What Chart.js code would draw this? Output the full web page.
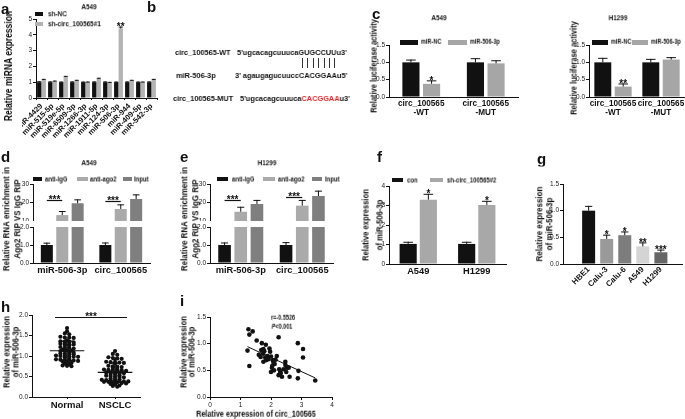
<!DOCTYPE html>
<html>
<head>
<meta charset="utf-8">
<script src="https://cdn.jsdelivr.net/npm/chart.js@4.4.0/dist/chart.umd.min.js"></script>
<style>
  body { margin: 0; background: #fff; }
  #fig { position: relative; width: 685px; height: 419px; overflow: hidden; background: #fff;
         font-family: 'Liberation Sans', Arial, sans-serif; color: #111; }
  #fig canvas { position: absolute; }
  .t { position: absolute; white-space: nowrap; line-height: 1; will-change: transform; }
  .box { position: absolute; }
</style>
</head>
<body>
<div id="fig"></div>
<script>
// ---- data ----
// a: miRNA screen in A549
const aLabels = ['miR-4429', 'miR-515-5p', 'miR-519e-5p', 'miR-6509-3p', 'miR-1266-3p', 'miR-1911-5p',
                 'miR-124-3p', 'miR-506-3p', 'miR-944', 'miR-409-5p', 'miR-542-3p'];
const aNC = [1.00, 1.00, 1.00, 1.00, 1.00, 1.00, 1.00, 1.00, 1.00, 1.00, 1.00];
const aNCErr = [0.06, 0.05, 0.04, 0.05, 0.04, 0.05, 0.05, 0.04, 0.05, 0.04, 0.05];
const aSh = [1.15, 1.05, 1.33, 1.10, 1.00, 1.22, 0.97, 4.40, 1.10, 1.00, 1.15];
const aShErr = [0.06, 0.05, 0.07, 0.05, 0.04, 0.06, 0.05, 0.12, 0.05, 0.04, 0.06];

// c: luciferase reporter
const cLabels = [['circ_100565', '-WT'], ['circ_100565', '-MUT']];
const cA549NC = [1.00, 1.00];
const cA549NCErr = [0.08, 0.12];
const cA549Mir = [0.38, 0.97];
const cA549MirErr = [0.10, 0.09];
const cH1299NC = [1.00, 1.00];
const cH1299NCErr = [0.13, 0.10];
const cH1299Mir = [0.30, 1.08];
const cH1299MirErr = [0.09, 0.07];

// d, e: RIP
const ripLabels = ['miR-506-3p', 'circ_100565'];
const dIgG = [1.00, 1.00];
const dIgGErr = [0.13, 0.14];
const dAgo2 = [13.2, 16.5];
const dAgo2Err = [2.2, 2.5];
const dInput = [19.6, 21.9];
const dInputErr = [2.1, 2.5];
const eIgG = [1.00, 1.00];
const eIgGErr = [0.14, 0.16];
const eAgo2 = [15.0, 18.3];
const eAgo2Err = [2.7, 3.1];
const eInput = [19.2, 23.5];
const eInputErr = [2.2, 2.9];

// f: knockdown
const fLabels = ['A549', 'H1299'];
const fCon = [1.03, 1.03];
const fConErr = [0.11, 0.11];
const fSh = [3.30, 3.03];
const fShErr = [0.30, 0.21];

// g: cell lines
const gLabels = ['HBE1', 'Calu-3', 'Calu-6', 'A549', 'H1299'];
const gVals = [1.00, 0.47, 0.54, 0.33, 0.22];
const gErr = [0.09, 0.08, 0.07, 0.075, 0.05];
const gStars = ['', '*', '*', '**', '***'];
const gColors = ['#111111', '#9a9a9a', '#7d7d7d', '#d4d4d4', '#666666'];

// h: tissues
const hLabels = ['Normal', 'NSCLC'];
const hNormal = [1.68, 1.60, 1.55, 1.53, 1.47, 1.45, 1.45, 1.44, 1.38, 1.36, 1.35, 1.35, 1.33,
  1.30, 1.29, 1.28, 1.28, 1.27, 1.26, 1.22, 1.20, 1.20, 1.18, 1.15, 1.14, 1.13, 1.12, 1.12, 1.11,
  1.08, 1.06, 1.05, 1.05, 1.04, 1.01, 1.00, 1.00, 0.99, 0.98, 0.98, 0.97,
  0.93, 0.92, 0.91, 0.90, 0.90, 0.89, 0.88, 0.87, 0.84, 0.83, 0.82, 0.80, 0.77, 0.76, 0.75];
const hNSCLC = [1.12, 1.05, 1.03, 0.97, 0.95, 0.94, 0.93, 0.92, 0.86, 0.85, 0.84, 0.84, 0.83, 0.82,
  0.76, 0.75, 0.74, 0.73, 0.72, 0.68, 0.67, 0.66, 0.66, 0.65, 0.65, 0.64,
  0.60, 0.60, 0.59, 0.58, 0.58, 0.57, 0.56, 0.53, 0.52, 0.51, 0.50, 0.49, 0.48,
  0.45, 0.44, 0.43, 0.42, 0.41, 0.40, 0.39, 0.39, 0.38, 0.38, 0.37, 0.37, 0.36, 0.36,
  0.34, 0.33, 0.32, 0.31, 0.28, 0.27, 0.25];

// i: correlation
const iX = [1.26, 1.40, 1.29, 1.23, 1.29, 1.53, 1.70, 1.68, 1.75, 1.83, 1.60, 1.74, 1.81, 1.88, 1.75,
  1.84, 1.92, 2.00, 1.97, 1.95, 2.06, 2.08, 2.03, 2.10, 2.00, 2.25, 2.19, 2.27, 2.30, 2.36,
  2.25, 2.41, 2.47, 2.47, 2.52, 2.58, 2.50, 2.61, 2.88, 3.05, 3.05, 2.90, 2.88, 3.45, 2.04,
  1.66, 2.15, 2.12, 1.78, 2.32];
const iY = [1.27, 1.23, 1.17, 0.87, 0.58, 1.06, 1.01, 0.88, 0.90, 0.98, 0.79, 0.81, 0.74, 0.77, 0.66,
  0.69, 0.71, 0.76, 0.85, 0.91, 0.69, 0.64, 0.55, 0.50, 0.47, 1.12, 0.77, 0.52, 0.47, 0.38,
  0.41, 0.52, 0.60, 0.66, 0.55, 0.55, 0.47, 0.38, 1.01, 0.90, 0.74, 0.49, 0.35, 0.31, 0.58,
  0.75, 0.70, 0.62, 0.86, 0.45];

// ---- helpers ----
const BLACK = '#111111';
const SX = 0.85;
const fig = document.getElementById('fig');
Chart.defaults.font.family = "'Liberation Sans', Arial, sans-serif";
Chart.defaults.color = '#111';

function txt(html, x, y, size, o) {
  o = o || {};
  const d = document.createElement('div');
  d.className = 't';
  d.innerHTML = html;
  d.style.left = x + 'px';
  d.style.top = y + 'px';
  d.style.fontSize = size + 'px';
  d.style.fontWeight = o.normal ? 'normal' : 'bold';
  const sx = o.sx || SX;
  if (o.rot) {
    d.style.transform = 'translate(-50%,-50%) rotate(-90deg) scaleX(' + sx + ')';
  } else if (o.left) {
    d.style.transformOrigin = '0 50%';
    d.style.transform = 'translateY(-50%) scaleX(' + sx + ')';
  } else {
    d.style.transform = 'translate(-50%,-50%) scaleX(' + sx + ')';
  }
  if (o.color) d.style.color = o.color;
  fig.appendChild(d);
}

function key(x, y, w, h, color, label, tx, size) {
  const b = document.createElement('div');
  b.className = 'box';
  b.style.left = x + 'px';
  b.style.top = y + 'px';
  b.style.width = w + 'px';
  b.style.height = h + 'px';
  b.style.background = color;
  fig.appendChild(b);
  txt(label, tx, y + h / 2, size, { left: true });
}

function val(d) { return typeof d === 'object' ? d.y : d; }

// upward error bars with caps
const errorBars = {
  id: 'errorBars',
  afterDatasetsDraw(chart, args, opts) {
    const { ctx, chartArea: area } = chart;
    const y = chart.scales.y;
    const over = opts.over === undefined ? 30 : opts.over;
    ctx.save();
    ctx.beginPath();
    ctx.rect(area.left - 5, area.top - over, area.right - area.left + 10, area.bottom - area.top + over);
    ctx.clip();
    chart.data.datasets.forEach((ds, di) => {
      if (!ds.err) return;
      chart.getDatasetMeta(di).data.forEach((bar, i) => {
        const v = val(ds.data[i]);
        const y0 = y.getPixelForValue(v), y1 = y.getPixelForValue(v + ds.err[i]);
        const half = Math.max(2, bar.width * 0.28);
        ctx.strokeStyle = ds.errColor || BLACK;
        ctx.lineWidth = 1;
        ctx.beginPath();
        ctx.moveTo(bar.x, y0);
        ctx.lineTo(bar.x, y1);
        ctx.moveTo(bar.x - half, y1 + 0.5);
        ctx.lineTo(bar.x + half, y1 + 0.5);
        ctx.stroke();
      });
    });
    ctx.restore();
  }
};

// significance stars and bracket lines
const sig = {
  id: 'sig',
  afterDatasetsDraw(chart, args, opts) {
    const { ctx } = chart;
    const x = chart.scales.x, y = chart.scales.y;
    const size = opts.size || 10;
    ctx.save();
    ctx.fillStyle = BLACK;
    ctx.strokeStyle = BLACK;
    ctx.font = 'bold ' + size + 'px ' + Chart.defaults.font.family;
    ctx.textAlign = 'center';
    ctx.textBaseline = 'alphabetic';
    (opts.marks || []).forEach(m => {
      const ds = chart.data.datasets[m.ds];
      const bar = chart.getDatasetMeta(m.ds).data[m.i];
      const top = y.getPixelForValue(val(ds.data[m.i]) + (ds.err ? ds.err[m.i] : 0));
      ctx.fillText(m.text, bar.x, top - 1 + 0.42 * size);
    });
    (opts.lines || []).forEach(l => {
      let x0, x1;
      if (l.a) {
        x0 = chart.getDatasetMeta(l.a[0]).data[l.a[1]].x;
        x1 = chart.getDatasetMeta(l.b[0]).data[l.b[1]].x;
      } else {
        x0 = x.getPixelForValue(l.x0);
        x1 = x.getPixelForValue(l.x1);
      }
      const py = Math.round(y.getPixelForValue(l.y)) + 0.5;
      ctx.lineWidth = 1.2;
      ctx.beginPath();
      ctx.moveTo(x0, py);
      ctx.lineTo(x1, py);
      ctx.stroke();
      ctx.fillText(l.text, (x0 + x1) / 2, py - 2 + 0.42 * size);
    });
    ctx.restore();
  }
};

// mean +/- SD for scatter groups
const meanSd = {
  id: 'meanSd',
  afterDatasetsDraw(chart) {
    const { ctx } = chart;
    const x = chart.scales.x, y = chart.scales.y;
    ctx.save();
    ctx.strokeStyle = BLACK;
    ctx.lineWidth = 1.2;
    chart.data.datasets.forEach(ds => {
      if (ds.center === undefined) return;
      const v = ds.data.map(p => p.y);
      const m = v.reduce((a, b) => a + b, 0) / v.length;
      const sd = Math.sqrt(v.reduce((a, b) => a + (b - m) * (b - m), 0) / (v.length - 1));
      const cx = x.getPixelForValue(ds.center);
      const half = x.getPixelForValue(ds.center + 0.36) - cx;
      const cap = x.getPixelForValue(ds.center + 0.12) - cx;
      const ym = y.getPixelForValue(m), yt = y.getPixelForValue(m + sd), yb = y.getPixelForValue(m - sd);
      ctx.beginPath();
      ctx.moveTo(cx - half, ym); ctx.lineTo(cx + half, ym);
      ctx.moveTo(cx, yt); ctx.lineTo(cx, yb);
      ctx.moveTo(cx - cap, yt); ctx.lineTo(cx + cap, yt);
      ctx.moveTo(cx - cap, yb); ctx.lineTo(cx + cap, yb);
      ctx.stroke();
    });
    ctx.restore();
  }
};

// place a chart so that its plot area lands on the given box
function panel(plot, m, config) {
  const c = document.createElement('canvas');
  const w = plot.r - plot.l + m.L + m.R, h = plot.b - plot.t + m.T + m.B;
  c.width = w;
  c.height = h;
  c.style.left = (plot.l - m.L) + 'px';
  c.style.top = (plot.t - m.T) + 'px';
  c.style.width = w + 'px';
  c.style.height = h + 'px';
  fig.appendChild(c);
  const o = config.options;
  o.responsive = false;
  o.animation = false;
  o.devicePixelRatio = 1;
  o.layout = { autoPadding: false, padding: { top: m.T, right: m.R, left: 0, bottom: 0 } };
  o.plugins = Object.assign({ legend: { display: false }, tooltip: { enabled: false } }, o.plugins);
  o.scales.x.afterFit = s => { s.height = m.B; s.paddingLeft = 0; s.paddingRight = 0; };
  o.scales.y.afterFit = s => { s.width = m.L; s.paddingTop = 0; s.paddingBottom = 0; };
  return new Chart(c, config);
}

function yAxis(min, max, step, dec) {
  return {
    min: min, max: max,
    ticks: { stepSize: step, font: { size: 6.5 }, padding: 1, color: '#222',
             callback: v => v.toFixed(dec) },
    grid: { drawOnChartArea: false, tickLength: 3, color: BLACK },
    border: { color: BLACK, width: 1 }
  };
}

function xCat(size, marks, rot) {
  return {
    ticks: { font: { size: size, weight: 'bold', lineHeight: 1.15 }, padding: 2, color: BLACK,
             maxRotation: rot || 0, minRotation: rot || 0, autoSkip: false },
    grid: marks ? { drawOnChartArea: false, tickLength: 2, color: BLACK } : { display: false, drawTicks: false },
    border: { color: BLACK, width: 1 }
  };
}

function barSet(data, err, color, cp, bp, extra) {
  return Object.assign({ data: data, err: err, backgroundColor: color,
                         categoryPercentage: cp, barPercentage: bp }, extra || {});
}

function swarm(vals, center, step, unit) {
  const rows = {};
  vals.forEach(v => {
    const k = Math.round(v / step);
    (rows[k] = rows[k] || []).push(v);
  });
  const pts = [];
  Object.keys(rows).forEach(k => {
    const r = rows[k];
    r.forEach((v, j) => pts.push({ x: center + (j - (r.length - 1) / 2) * unit, y: v }));
  });
  return pts;
}

// ---- panel letters ----
txt('a', 1, 7.8, 15, { left: true, sx: 1 });
txt('b', 147, 5.8, 15, { left: true, sx: 1 });
txt('c', 372, 12.8, 15, { left: true, sx: 1 });
txt('d', 1, 155.8, 15, { left: true, sx: 1 });
txt('e', 180, 155.8, 15, { left: true, sx: 1 });
txt('f', 377, 155.8, 15, { left: true, sx: 1 });
txt('g', 537, 157.8, 15, { left: true, sx: 1 });
txt('h', 1, 305.8, 15, { left: true, sx: 1 });
txt('i', 180, 299.8, 15, { left: true, sx: 1 });

// ---- a ----
panel({ l: 36, r: 157, t: 19, b: 98 }, { L: 14, T: 4, R: 3, B: 45 }, {
  type: 'bar',
  data: { labels: aLabels, datasets: [
    barSet(aNC, aNCErr, BLACK, 0.82, 0.96),
    barSet(aSh, aShErr, '#b3b3b3', 0.82, 0.96)
  ] },
  options: {
    scales: { x: xCat(7.6, true, 45), y: yAxis(0, 5, 1, 0) },
    plugins: { errorBars: {}, sig: { size: 10, marks: [{ ds: 1, i: 7, text: '**' }] } }
  },
  plugins: [errorBars, sig]
});
txt('A549', 89, 6.5, 7.5);
key(35, 12, 8, 4, BLACK, 'sh-NC', 48, 7.5);
key(35, 22, 8, 4, '#b3b3b3', 'sh-circ_100565#1', 48, 7.5);
txt('Relative miRNA expression', 9, 66, 10, { rot: true });

// ---- b ----
const bS = 8, bX = 0.92;
txt('circ_100565-WT', 175, 53, bS, { left: true, sx: bX });
txt("5'ugcacagcuuucaGUGCCUUu3'", 237, 53, bS, { left: true, sx: bX });
txt('miR-506-3p', 176, 76, bS, { left: true, sx: bX });
txt("3' agaugagucuuccCACGGAAu5'", 235, 76, bS, { left: true, sx: bX });
txt('circ_100565-MUT', 173, 99, bS, { left: true, sx: bX });
txt("5'ugcacagcuuuca<span style=\"color:#e8262b\">CACGGAA</span>u3'", 240, 99, bS, { left: true, sx: bX });
for (let k = 0; k < 7; k++) {
  const d = document.createElement('div');
  d.className = 'box';
  d.style.left = (302 + k * 5.4) + 'px';
  d.style.top = '58px';
  d.style.width = '1px';
  d.style.height = '10px';
  d.style.background = '#333';
  fig.appendChild(d);
}

// ---- c ----
function lucPanel(left, right, cp, nc, ncErr, mir, mirErr, star) {
  panel({ l: left, r: right, t: 45, b: 97 }, { L: 16, T: 10, R: 2, B: 26 }, {
    type: 'bar',
    data: { labels: cLabels, datasets: [
      barSet(nc, ncErr, BLACK, cp, 0.83),
      barSet(mir, mirErr, '#a6a6a6', cp, 0.83)
    ] },
    options: {
      scales: { x: xCat(8.2, false), y: yAxis(0, 1.5, 0.5, 1) },
      plugins: { errorBars: {}, sig: { size: 10, marks: [{ ds: 1, i: 0, text: star }] } }
    },
    plugins: [errorBars, sig]
  });
}
lucPanel(389, 518, 0.64, cA549NC, cA549NCErr, cA549Mir, cA549MirErr, '*');
lucPanel(589, 685, 0.85, cH1299NC, cH1299NCErr, cH1299Mir, cH1299MirErr, '**');
txt('A549', 439, 18, 7.5);
txt('H1299', 618, 18, 7.5);
key(400, 39.5, 18, 5, BLACK, 'miR-NC', 421, 6.5);
key(448, 39.5, 19, 5, '#a6a6a6', 'miR-506-3p', 470, 6.5);
key(592, 39.5, 16, 5, BLACK, 'miR-NC', 611, 6.5);
key(632, 39.5, 16, 5, '#a6a6a6', 'miR-506-3p', 651, 6.5);
txt('Relative luciferase activity', 374, 66, 8.8, { rot: true });
txt('Relative luciferase activity', 574, 68, 8.8, { rot: true });

// ---- d, e (broken axis) ----
function ripPanel(left, right, igg, iggErr, ago, agoErr, inp, inpErr, upperStep, lines) {
  const sets = () => [
    barSet(igg, iggErr, BLACK, 0.79, 0.78, { clip: 0 }),
    barSet(ago, agoErr, '#aaaaaa', 0.79, 0.78, { clip: 0 }),
    barSet(inp, inpErr, '#7f7f7f', 0.79, 0.78, { clip: 0 })
  ];
  panel({ l: left, r: right, t: 184, b: 221 }, { L: 14, T: 3, R: 2, B: 0 }, {
    type: 'bar',
    data: { labels: ripLabels, datasets: sets() },
    options: {
      scales: { x: { display: false }, y: yAxis(10, 30, upperStep, 0) },
      plugins: { errorBars: { over: 20 }, sig: { size: 10, lines: lines } }
    },
    plugins: [errorBars, sig]
  });
  panel({ l: left, r: right, t: 227, b: 263 }, { L: 14, T: 3, R: 2, B: 16 }, {
    type: 'bar',
    data: { labels: ripLabels, datasets: sets() },
    options: {
      scales: { x: xCat(9.3, false), y: yAxis(0, 2, 0.5, 1) },
      plugins: { errorBars: { over: 0 } }
    },
    plugins: [errorBars]
  });
}
ripPanel(33, 150, dIgG, dIgGErr, dAgo2, dAgo2Err, dInput, dInputErr, 5,
  [{ a: [0, 0], b: [1, 0], y: 21.4, text: '***' }, { a: [0, 1], b: [1, 1], y: 20.9, text: '***' }]);
ripPanel(210, 333, eIgG, eIgGErr, eAgo2, eAgo2Err, eInput, eInputErr, 10,
  [{ a: [0, 0], b: [1, 0], y: 21.2, text: '***' }, { a: [0, 1], b: [1, 1], y: 23.2, text: '***' }]);
txt('A549', 89, 163, 7.5);
txt('H1299', 267, 163, 7.5);
key(33, 177, 9, 4, BLACK, 'anti-IgG', 45, 7);
key(77, 177, 11, 4, '#aaaaaa', 'anti-ago2', 90, 7);
key(123, 177, 9, 4, '#7f7f7f', 'Input', 134, 7);
key(217, 177, 11, 4, BLACK, 'anti-IgG', 232, 7);
key(263, 177, 12, 4, '#aaaaaa', 'anti-ago2', 278, 7);
key(312, 177, 10, 4, '#7f7f7f', 'Input', 325, 7);
txt('Relative RNA enrichment in', 6, 219, 9.4, { rot: true });
txt('Ago2 RIP VS IgG RIP', 17, 219, 9.4, { rot: true });
txt('Relative RNA enrichment in', 184, 219, 9.4, { rot: true });
txt('Ago2 RIP VS IgG RIP', 195, 219, 9.4, { rot: true });

// ---- f ----
panel({ l: 389, r: 506, t: 186, b: 264 }, { L: 12, T: 3, R: 2, B: 16 }, {
  type: 'bar',
  data: { labels: fLabels, datasets: [
    barSet(fCon, fConErr, BLACK, 0.69, 0.85),
    barSet(fSh, fShErr, '#a8a8a8', 0.69, 0.85)
  ] },
  options: {
    scales: { x: xCat(9.3, false), y: yAxis(0, 4, 1, 0) },
    plugins: { errorBars: {}, sig: { size: 10, marks: [{ ds: 1, i: 0, text: '*' }, { ds: 1, i: 1, text: '*' }] } }
  },
  plugins: [errorBars, sig]
});
key(392, 178, 11, 4, BLACK, 'con', 407, 7);
key(430, 178, 13, 4, '#a8a8a8', 'sh-circ_100565#2', 447, 7);
txt('Relative expression', 366, 225, 9, { rot: true });
txt('of miR-506-3p', 379.5, 225, 9, { rot: true });

// ---- g ----
panel({ l: 563, r: 682, t: 184, b: 264 }, { L: 14, T: 3, R: 3, B: 30 }, {
  type: 'bar',
  data: { datasets: [{
    data: gVals.map((v, i) => ({ x: i, y: v })), err: gErr, backgroundColor: gColors,
    categoryPercentage: 1, barPercentage: 0.72
  }] },
  options: {
    scales: {
      x: { type: 'linear', min: -0.76, max: 4.51,
           afterBuildTicks: s => { s.ticks = gLabels.map((_, i) => ({ value: i })); },
           ticks: { callback: v => gLabels[v], minRotation: 45, maxRotation: 45, autoSkip: false,
                    font: { size: 8, weight: 'bold' }, padding: 1, color: BLACK },
           grid: { display: false, drawTicks: false }, border: { color: BLACK, width: 1 } },
      y: yAxis(0, 1.5, 0.5, 1)
    },
    plugins: { errorBars: {}, sig: { size: 10, marks: gStars.map((s, i) => ({ ds: 0, i: i, text: s })) } }
  },
  plugins: [errorBars, sig]
});
txt('Relative expression', 538.5, 224, 9.4, { rot: true });
txt('of miR-506-3p', 549, 224, 9.4, { rot: true });

// ---- h ----
panel({ l: 32, r: 140, t: 315, b: 397 }, { L: 14, T: 12, R: 2, B: 16 }, {
  type: 'scatter',
  data: { datasets: [
    { data: swarm(hNormal, 0, 0.05, 0.092), center: 0, backgroundColor: BLACK, borderWidth: 0, pointRadius: 2.1 },
    { data: swarm(hNSCLC, 1, 0.05, 0.092), center: 1, backgroundColor: BLACK, borderWidth: 0, pointRadius: 2.1 }
  ] },
  options: {
    scales: {
      x: { type: 'linear', min: -0.73, max: 1.52,
           afterBuildTicks: s => { s.ticks = hLabels.map((_, i) => ({ value: i })); },
           ticks: { callback: v => hLabels[v], font: { size: 9.5, weight: 'bold' }, padding: 1, color: BLACK },
           grid: { drawOnChartArea: false, tickLength: 2, color: BLACK }, border: { color: BLACK, width: 1 } },
      y: yAxis(0, 2, 0.5, 1)
    },
    plugins: { sig: { size: 10, lines: [{ x0: -0.25, x1: 1.25, y: 1.95, text: '***' }] } }
  },
  plugins: [meanSd, sig]
});
txt('Relative expression', 7, 352, 9, { rot: true });
txt('of miR-506-3p', 15.5, 352, 9, { rot: true });

// ---- i ----
const iPts = iX.map((x, k) => ({ x: x, y: iY[k] }));
const iMx = iX.reduce((a, b) => a + b, 0) / iX.length;
const iMy = iY.reduce((a, b) => a + b, 0) / iY.length;
const iSlope = iX.reduce((a, x, k) => a + (x - iMx) * (iY[k] - iMy), 0) /
               iX.reduce((a, x) => a + (x - iMx) * (x - iMx), 0);
const iX0 = Math.min.apply(null, iX), iX1 = Math.max.apply(null, iX);
panel({ l: 210, r: 332, t: 317, b: 397 }, { L: 14, T: 3, R: 4, B: 12 }, {
  type: 'scatter',
  data: { datasets: [
    { data: iPts, backgroundColor: BLACK, borderWidth: 0, pointRadius: 2.3 },
    { data: [{ x: iX0, y: iMy + iSlope * (iX0 - iMx) }, { x: iX1, y: iMy + iSlope * (iX1 - iMx) }],
      showLine: true, borderColor: BLACK, borderWidth: 1, pointRadius: 0 }
  ] },
  options: {
    scales: {
      x: { type: 'linear', min: 0, max: 4,
           ticks: { stepSize: 1, font: { size: 6.5 }, padding: 1, color: '#222' },
           grid: { drawOnChartArea: false, tickLength: 3, color: BLACK }, border: { color: BLACK, width: 1 } },
      y: yAxis(0, 1.5, 0.5, 1)
    }
  }
});
txt('Relative expression', 183.5, 352, 9, { rot: true });
txt('of miR-506-3p', 191.5, 352, 9, { rot: true });
txt('Relative expression of circ_100565', 256, 414, 8.5);
txt('r=-0.5526', 283, 318, 6.5);
txt('<i>P</i>&lt;0.001', 282, 326.5, 6.5);
</script>
</body>
</html>
